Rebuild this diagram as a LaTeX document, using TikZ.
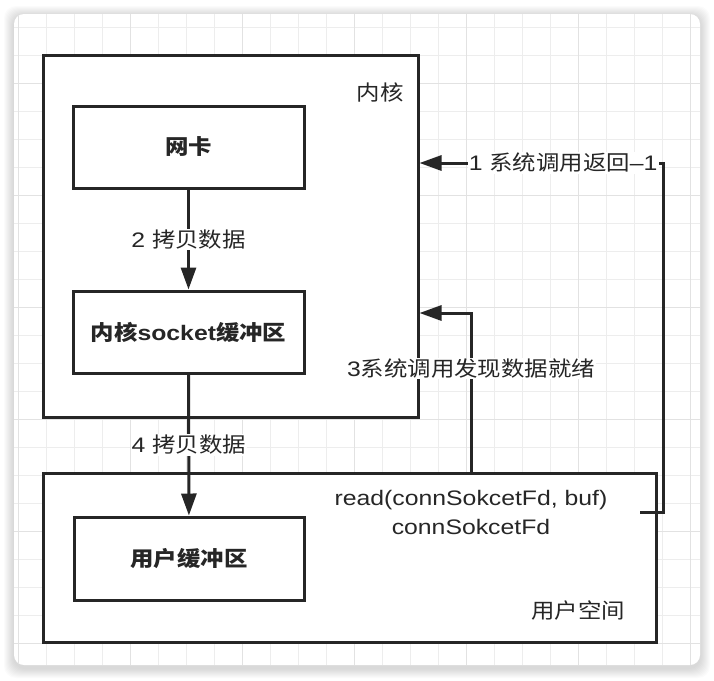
\documentclass[tikz,border=0pt]{standalone}
\usepackage{fontspec}
\usetikzlibrary{arrows.meta}
\setmainfont{Liberation Sans}[FakeStretch=1.18]
\newfontfamily\cjk{Noto Sans CJK SC}[FakeStretch=1.115]
\newcommand\lblsize{\fontsize{21}{29}\selectfont}
\definecolor{ink}{HTML}{262626}
\definecolor{gridminor}{HTML}{EDEDED}
\definecolor{gridmajor}{HTML}{E2E2E2}

\begin{document}
\begin{tikzpicture}[x=1pt, y=-1pt,
		box/.style={draw=ink, line width=3pt, fill=white, text=ink, font=\lblsize\bfseries},
		plain/.style={text=ink, font=\lblsize},
		lbl/.style={fill=white, inner sep=1pt, text=ink, font=\lblsize},
		flow/.style={draw=ink, line width=3pt, -{Triangle[length=22pt, width=15pt]}}]
	\useasboundingbox (0,0) rectangle (714,680);
	\foreach \s in {1,...,10}
		\fill[black, opacity=0.016, rounded corners=12pt] (14-\s,14-\s+2) rectangle (700+\s,665+\s+3);
	\fill[white, rounded corners=10pt] (14,14) rectangle (700,665);
	\begin{scope}
		\clip[rounded corners=10pt] (14,14) rectangle (700,665);
		\foreach \gx in {18,46,...,690}
			\draw[gridminor, line width=1pt] (\gx,14) -- (\gx,665);
		\foreach \gy in {27,55,...,663}
			\draw[gridminor, line width=1pt] (14,\gy) -- (700,\gy);
		\foreach \gx in {18,130,...,690}
			\draw[gridmajor, line width=1pt] (\gx,14) -- (\gx,665);
		\foreach \gy in {83,195,...,643}
			\draw[gridmajor, line width=1pt] (14,\gy) -- (700,\gy);
	\end{scope}

	\node[box, minimum width=375pt, minimum height=362pt] (kern) at (230.5,236) {};
	\node[plain] (kernlbl) at (380,92) {\cjk 内核};
	\node[box, minimum width=231pt, minimum height=82pt] (nic) at (188.5,147) {\cjk 网卡};
	\node[box, minimum width=231pt, minimum height=82pt] (kbuf) at (188.5,332) {{\cjk 内核}socket{\cjk 缓冲区}};
	\node[box, minimum width=613pt, minimum height=169pt] (user) at (349.5,557.5) {};
	\node[box, minimum width=230pt, minimum height=83pt] (ubuf) at (189,558.5) {\cjk 用户缓冲区};
	\node[plain] (userlbl) at (578,611) {\cjk 用户空间};
	\node[plain, align=center] (readcall) at (471,512) {read(connSokcetFd, buf)\\connSokcetFd};
	\coordinate (ret) at (640,512);
	\coordinate (bend) at (663,163);
	\coordinate (ready) at (471,313);

	\draw[flow] (nic) -- node[lbl] {2 {\cjk 拷贝数据}} (kbuf);
	\draw[flow] (kbuf) -- node[lbl] {4 {\cjk 拷贝数据}} (ubuf);
	\draw[flow] (user.north -| ready) |- node[lbl, pos=0.325] {3{\cjk 系统调用发现数据就绪}} (kern.east |- ready);
	\draw[flow] (ret) -- (ret -| bend) -- (bend) -- node[lbl, pos=0.41] {1 {\cjk 系统调用返回}–1} (kern.east |- bend);
\end{tikzpicture}
\end{document}
